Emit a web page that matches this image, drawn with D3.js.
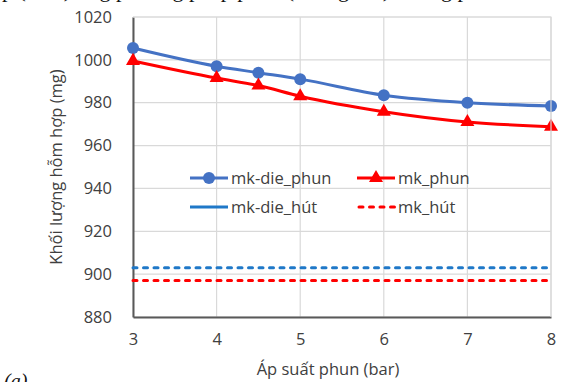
<!DOCTYPE html>
<meta charset="utf-8">
<style>
body { margin: 0; background: white; }
text { font-family: "Open Sans", "Liberation Sans", sans-serif; }
.grid line { stroke: #d9d9d9; stroke-width: 1.2; }
.tick text { fill: #404040; font-size: 16.5px; }
</style>
<script src="https://cdn.jsdelivr.net/npm/d3@7"></script>
<body>
<script>
// pressure values (bar)
const apSuat = [3, 4, 4.5, 5, 6, 7, 8];
const mkDiePhun = [1005.5, 997, 994, 991, 983.5, 980, 978.5];
const mkPhun = [999.5, 991.5, 988, 983, 975.8, 971, 968.8];
const mkDieHut = 903;
const mkHut = 897;
const xTicks = [3, 4, 5, 6, 7, 8];
const yTicks = [880, 900, 920, 940, 960, 980, 1000, 1020];

const W = 562, H = 382;
const margin = { top: 17, right: 11, bottom: 65, left: 133 };
const width = W - margin.left - margin.right;
const height = H - margin.top - margin.bottom;

const root = d3.select('body').append('svg')
  .attr('width', W).attr('height', H);

// clipped caption line above the chart
root.append('text')
  .attr('x', 2).attr('y', -3)
  .style('font-family', '"Liberation Serif", serif')
  .style('font-size', '22px')
  .attr('fill', '#111')
  .text('p          (mẫu)  ứng phương pháp phun (không khí)  hưởng phun');

const svg = root.append('g')
  .attr('transform', `translate(${margin.left},${margin.top})`);

const x = d3.scaleLinear().domain([3, 8]).range([0, width]);
const y = d3.scaleLinear().domain([880, 1020]).range([height, 0]);

// grid
svg.append('g').attr('class', 'grid')
  .selectAll('line.h').data(yTicks).join('line')
  .attr('x1', 0).attr('x2', width)
  .attr('y1', d => y(d)).attr('y2', d => y(d));
svg.append('g').attr('class', 'grid')
  .selectAll('line.v').data(xTicks).join('line')
  .attr('y1', 0).attr('y2', height)
  .attr('x1', d => x(d)).attr('x2', d => x(d));

// axes
const xAxis = svg.append('g')
  .attr('transform', `translate(0,${height})`)
  .call(d3.axisBottom(x).tickValues(xTicks).tickSize(0).tickPadding(16).tickFormat(d3.format('d')));
xAxis.select('.domain').attr('stroke', '#595959').attr('stroke-width', 2);

const yAxis = svg.append('g')
  .call(d3.axisLeft(y).tickValues(yTicks).tickSize(0).tickPadding(21).tickFormat(d3.format('d')));
yAxis.select('.domain').attr('stroke', '#595959').attr('stroke-width', 2);

// axis titles
svg.append('text')
  .attr('x', width / 2 - 14).attr('y', height + 58)
  .attr('text-anchor', 'middle')
  .style('font-size', '16.5px').attr('fill', '#404040')
  .text('Áp suất phun (bar)');
svg.append('text')
  .attr('transform', `translate(${-71},${height / 2}) rotate(-90)`)
  .attr('text-anchor', 'middle')
  .style('font-size', '16.5px').attr('fill', '#404040')
  .text('Khối lượng hỗm hợp (mg)');

// reference lines
svg.append('line')
  .attr('x1', 0).attr('x2', width)
  .attr('y1', y(mkDieHut)).attr('y2', y(mkDieHut))
  .attr('stroke', '#1f78c8').attr('stroke-width', 3)
  .attr('stroke-linecap', 'round')
  .attr('stroke-dasharray', '4,6.5');
svg.append('line')
  .attr('x1', 0).attr('x2', width)
  .attr('y1', y(mkHut)).attr('y2', y(mkHut))
  .attr('stroke', '#ff0000').attr('stroke-width', 3)
  .attr('stroke-linecap', 'round')
  .attr('stroke-dasharray', '4,6.5');

// series
const line = d3.line().x(d => x(d[0])).y(d => y(d[1])).curve(d3.curveMonotoneX);
const blueData = apSuat.map((p, i) => [p, mkDiePhun[i]]);
const redData = apSuat.map((p, i) => [p, mkPhun[i]]);

svg.append('path').datum(blueData)
  .attr('d', line).attr('fill', 'none')
  .attr('stroke', '#4472c4').attr('stroke-width', 3);
svg.append('path').datum(redData)
  .attr('d', line).attr('fill', 'none')
  .attr('stroke', '#ff0000').attr('stroke-width', 3);

svg.selectAll('circle.blue').data(blueData).join('circle')
  .attr('cx', d => x(d[0])).attr('cy', d => y(d[1]))
  .attr('r', 6).attr('fill', '#4472c4');

const tri = d3.symbol().type(d3.symbolTriangle).size(85);
svg.selectAll('path.red').data(redData).join('path')
  .attr('transform', d => `translate(${x(d[0])},${y(d[1])})`)
  .attr('d', tri).attr('fill', '#ff0000');

// legend
const legend = [
  { name: 'mk-die_phun', color: '#4472c4', marker: 'circle', dash: null, lx: 190, ly: 178 },
  { name: 'mk_phun', color: '#ff0000', marker: 'triangle', dash: null, lx: 357, ly: 178 },
  { name: 'mk-die_hút', color: '#1f78c8', marker: null, dash: null, lx: 190, ly: 207 },
  { name: 'mk_hút', color: '#ff0000', marker: null, dash: '4,6.5', lx: 357, ly: 207 }
];
const lg = root.append('g');
legend.forEach(d => {
  const g = lg.append('g').attr('transform', `translate(${d.lx},${d.ly})`);
  g.append('line').attr('x1', d.dash ? 2 : 0).attr('x2', 38)
    .attr('stroke', d.color).attr('stroke-width', 3)
    .attr('stroke-linecap', d.dash ? 'round' : 'butt')
    .attr('stroke-dasharray', d.dash);
  if (d.marker === 'circle') g.append('circle').attr('cx', 19).attr('r', 6).attr('fill', d.color);
  if (d.marker === 'triangle') g.append('path').attr('transform', 'translate(19,0)').attr('d', tri).attr('fill', d.color);
  g.append('text').attr('x', 41).attr('y', 6)
    .style('font-size', '16.5px').attr('fill', '#404040')
    .text(d.name);
});

// plot frame top/right
svg.append('path')
  .attr('d', `M0,0H${width}V${height}`)
  .attr('fill', 'none').attr('stroke', '#d9d9d9').attr('stroke-width', 1.2);

// panel label partially cut off
root.append('text')
  .attr('x', 4).attr('y', 388)
  .style('font-family', '"Liberation Serif", serif')
  .style('font-style', 'italic')
  .style('font-size', '20px').attr('fill', '#111')
  .text('(a)');
</script>
</body>
